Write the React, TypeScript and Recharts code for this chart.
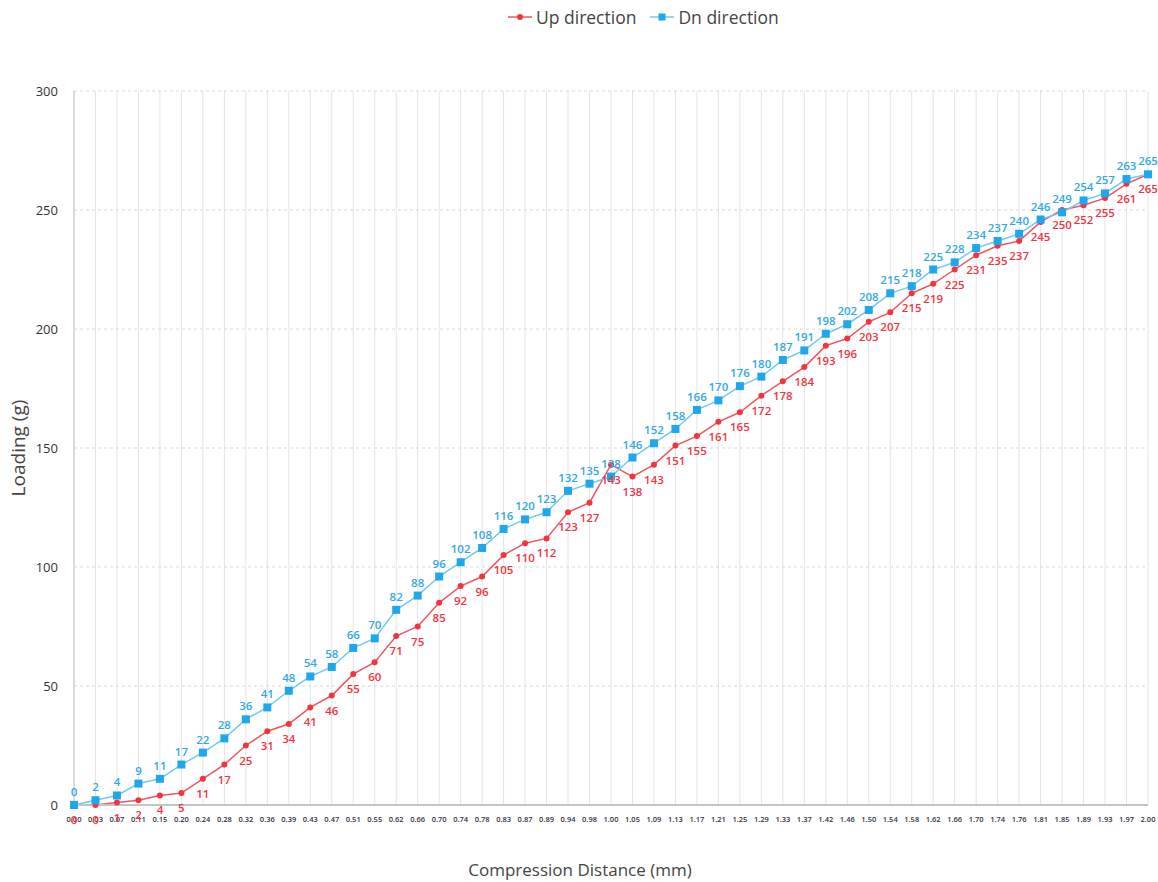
import { LineChart, Line, XAxis, YAxis, CartesianGrid, LabelList } from 'recharts';

const distances = [
  '0.00', '0.03', '0.07', '0.11', '0.15', '0.20', '0.24', '0.28', '0.32', '0.36',
  '0.39', '0.43', '0.47', '0.51', '0.55', '0.62', '0.66', '0.70', '0.74', '0.78',
  '0.83', '0.87', '0.89', '0.94', '0.98', '1.00', '1.05', '1.09', '1.13', '1.17',
  '1.21', '1.25', '1.29', '1.33', '1.37', '1.42', '1.46', '1.50', '1.54', '1.58',
  '1.62', '1.66', '1.70', '1.74', '1.76', '1.81', '1.85', '1.89', '1.93', '1.97', '2.00',
];

const upLoad = [
  0, 0, 1, 2, 4, 5, 11, 17, 25, 31, 34, 41, 46, 55, 60, 71, 75, 85, 92, 96,
  105, 110, 112, 123, 127, 143, 138, 143, 151, 155, 161, 165, 172, 178, 184, 193, 196, 203, 207, 215,
  219, 225, 231, 235, 237, 245, 250, 252, 255, 261, 265,
];

const dnLoad = [
  0, 2, 4, 9, 11, 17, 22, 28, 36, 41, 48, 54, 58, 66, 70, 82, 88, 96, 102, 108,
  116, 120, 123, 132, 135, 138, 146, 152, 158, 166, 170, 176, 180, 187, 191, 198, 202, 208, 215, 218,
  225, 228, 234, 237, 240, 246, 249, 254, 257, 263, 265,
];

const yTicks = [0, 50, 100, 150, 200, 250, 300];

const RED = '#f5333f';
const RED_LINE = '#f0545c';
const BLUE = '#2fa9e6';
const BLUE_LINE = '#74c8f0';
const FONT = '"Open Sans", "Noto Sans", sans-serif';

const data = distances.map((d, i) => ({ dist: d, up: upLoad[i], dn: dnLoad[i] }));

const UpLabel = (props: any) => {
  const { x, y, value } = props;
  return (
    <text x={x} y={y + 19} textAnchor="middle" fill={RED} fontSize={11.5} fontWeight={600} fontFamily={FONT}>
      {value}
    </text>
  );
};

const DnLabel = (props: any) => {
  const { x, y, value } = props;
  return (
    <text x={x} y={y - 9} textAnchor="middle" fill={BLUE} fontSize={11.5} fontWeight={600} fontFamily={FONT}>
      {value}
    </text>
  );
};

const SquareDot = (props: any) => {
  const { cx, cy, index } = props;
  return <rect key={index} x={cx - 4} y={cy - 4} width={8} height={8} fill="#1ea7ea" />;
};

const ChartLegend = () => (
  <div
    style={{
      position: 'absolute', top: 5, left: 508, display: 'flex', gap: 14,
      fontFamily: FONT, fontSize: 17.5, color: '#444',
    }}
  >
    <div style={{ display: 'flex', alignItems: 'center', gap: 4 }}>
      <svg width={24} height={10}>
        <line x1={0} y1={5} x2={24} y2={5} stroke={RED_LINE} strokeWidth={1.5} />
        <circle cx={12} cy={5} r={3} fill={RED} />
      </svg>
      <span>Up direction</span>
    </div>
    <div style={{ display: 'flex', alignItems: 'center', gap: 4 }}>
      <svg width={24} height={10}>
        <line x1={0} y1={5} x2={24} y2={5} stroke={BLUE_LINE} strokeWidth={1.5} />
        <rect x={8.5} y={1.5} width={7} height={7} fill="#1ea7ea" />
      </svg>
      <span>Dn direction</span>
    </div>
  </div>
);

export default function App() {
  return (
    <div style={{ position: 'absolute', left: 0, top: 0, width: 1158, height: 882, background: '#fff' }}>
      <ChartLegend />
      <LineChart width={1158} height={882} data={data} margin={{ top: 91, right: 10, left: 0, bottom: 0 }}>
        <CartesianGrid horizontal={false} stroke="#e4e4e4" />
        <CartesianGrid vertical={false} stroke="#d9d9d9" strokeDasharray="3 3" />
        <XAxis
          dataKey="dist"
          height={77}
          interval={0}
          tickLine={false}
          axisLine={{ stroke: '#c4c4c4', strokeWidth: 2 }}
          tick={{ fontSize: 7.5, fill: '#334', fontFamily: FONT, fontWeight: 600 }}
          tickMargin={6}
          label={{ value: 'Compression Distance (mm)', position: 'insideBottom', offset: 6, dx: -31, fill: '#444', fontSize: 17, fontFamily: FONT }}
        />
        <YAxis
          width={74}
          domain={[0, 300]}
          ticks={yTicks}
          tickLine={false}
          axisLine={{ stroke: '#c4c4c4' }}
          tick={{ fontSize: 13, fill: '#333', fontFamily: FONT }}
          tickMargin={10}
          label={{ value: 'Loading (g)', angle: -90, position: 'insideLeft', offset: 18, fill: '#444', fontSize: 19, fontFamily: FONT, style: { textAnchor: 'middle' } }}
        />
        <Line
          type="linear"
          dataKey="up"
          name="Up direction"
          stroke={RED_LINE}
          strokeWidth={1.5}
          dot={{ r: 3, fill: RED, stroke: RED, strokeWidth: 0 }}
          isAnimationActive={false}
        >
          <LabelList dataKey="up" content={UpLabel} />
        </Line>
        <Line
          type="linear"
          dataKey="dn"
          name="Dn direction"
          stroke={BLUE_LINE}
          strokeWidth={1.5}
          dot={SquareDot}
          isAnimationActive={false}
        >
          <LabelList dataKey="dn" content={DnLabel} />
        </Line>
      </LineChart>
    </div>
  );
}
